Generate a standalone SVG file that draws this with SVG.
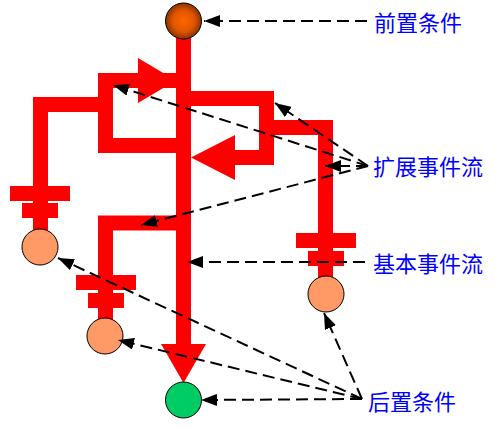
<svg xmlns="http://www.w3.org/2000/svg" width="501" height="427" viewBox="0 0 501 427">
<defs>
<radialGradient id="gOrange" cx="50%" cy="50%" r="50%">
<stop offset="0" stop-color="#FF6600"/>
<stop offset="0.6" stop-color="#E05500"/>
<stop offset="1" stop-color="#8A3300"/>
</radialGradient>
<marker id="ah" markerUnits="userSpaceOnUse" markerWidth="18" markerHeight="12" refX="16" refY="6" orient="auto">
<path d="M0,0 L16,6 L0,12 z" fill="#000"/>
</marker>
<style>
.flow{fill:none;stroke:#FF0000;stroke-width:15;stroke-linejoin:miter;stroke-linecap:butt}
.red{fill:#FF0000}
.node{stroke:#000;stroke-width:1}
.dash{fill:none;stroke:#000;stroke-width:2;stroke-dasharray:12 6;marker-end:url(#ah)}
.lbl{font-family:"Noto Sans CJK SC","Noto Sans",sans-serif;font-size:22px;fill:#0000FF;dominant-baseline:central}
</style>
</defs>
<rect width="501" height="427" fill="#fff"/>
<g id="flows">
<path class="flow" d="M183.5,38 V345"/>
<polygon class="red" points="161,344 206,344 183.5,383"/>
<path class="flow" d="M176,80.5 H105.5 V145.5 H176"/>
<polygon class="red" points="138,58 138,103 176,80.5"/>
<path class="flow" d="M105.5,104.5 H40.5 V230"/>
<rect class="red" x="10" y="186" width="60" height="15"/>
<rect class="red" x="22" y="203" width="36" height="15"/>
<path class="flow" d="M183.5,98.5 H266.5 V157.5 H234"/>
<polygon class="red" points="235,135 235,180 191,157.5"/>
<path class="flow" d="M266.5,127.5 H325.5 V280"/>
<rect class="red" x="296" y="233" width="60" height="15"/>
<rect class="red" x="308" y="251" width="36" height="15"/>
<path class="flow" d="M183.5,223 H105.5 V320"/>
<rect class="red" x="76" y="275" width="60" height="15"/>
<rect class="red" x="88" y="293" width="36" height="15"/>
</g>
<g id="pre"><circle class="node" cx="183.5" cy="21" r="18" fill="url(#gOrange)"/></g>
<g id="end1"><circle class="node" cx="40" cy="247" r="18" fill="#FF9966"/></g>
<g id="end2"><circle class="node" cx="105" cy="336" r="18" fill="#FF9966"/></g>
<g id="end3"><circle class="node" cx="326" cy="294" r="18" fill="#FF9966"/></g>
<g id="post"><circle class="node" cx="183.5" cy="400" r="18" fill="#00CC66"/></g>
<g id="connectors">
<line class="dash" x1="367" y1="21" x2="204" y2="21"/>
<line class="dash" x1="368" y1="166" x2="275" y2="103"/>
<line class="dash" x1="368" y1="166" x2="113" y2="85"/>
<line class="dash" x1="368" y1="166" x2="325" y2="166"/>
<line class="dash" x1="368" y1="166" x2="141" y2="225"/>
<line class="dash" x1="365" y1="262" x2="187" y2="262"/>
<line class="dash" x1="362" y1="399" x2="201" y2="400"/>
<line class="dash" x1="362" y1="399" x2="324" y2="313"/>
<line class="dash" x1="362" y1="399" x2="118" y2="340"/>
<line class="dash" x1="362" y1="399" x2="58" y2="258"/>
</g>
<g id="labels">
<text class="lbl" x="374" y="21">前置条件</text>
<text class="lbl" x="373" y="165">扩展事件流</text>
<text class="lbl" x="373" y="262">基本事件流</text>
<text class="lbl" x="368" y="400">后置条件</text>
</g>
</svg>
